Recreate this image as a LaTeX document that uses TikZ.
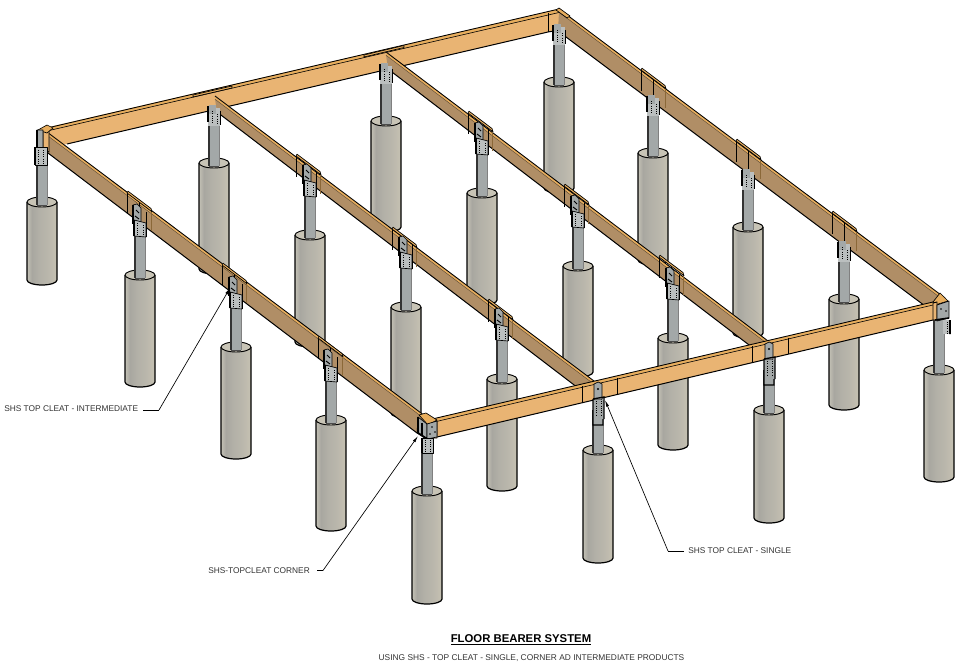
\documentclass[tikz,border=0pt]{standalone}
\usepackage{fontspec}
\setmainfont{Liberation Sans}
\usetikzlibrary{arrows.meta}
\definecolor{cA}{HTML}{C4C1B5}
\definecolor{cB}{HTML}{A8A7A0}
\definecolor{cC}{HTML}{B2B0A7}
\definecolor{cD}{HTML}{BAB7AC}
\definecolor{cE}{HTML}{C6C1B2}
\definecolor{captop}{HTML}{C8C4B6}
\definecolor{steel}{HTML}{A3A8A8}
\definecolor{steellt}{HTML}{BBBFBF}
\definecolor{faceO}{HTML}{E9B473}
\definecolor{faceB}{HTML}{B08E66}
\definecolor{stripO}{HTML}{E8AE5E}
\pgfdeclarehorizontalshading{cylshade}{100bp}{color(0bp)=(cA); color(25bp)=(cA); color(33bp)=(cB); color(45bp)=(cC); color(60bp)=(cD); color(75bp)=(cE); color(100bp)=(cE)}
\tikzset{
  ln/.style={draw=black,line width=0.7pt,line join=round},
  thinln/.style={draw=black,line width=0.5pt,line join=round},
  lead/.style={draw=black,line width=0.5pt},
  leadtip/.style={lead,-{Latex[length=5pt,width=2.2pt]}},
  lab/.style={font=\fontsize{6.25pt}{7.5pt}\selectfont,inner sep=0pt,text=black!80},
}
% x, cylinder top, cylinder bottom, post top
\newcommand{\pier}[4]{%
  \path[shading=cylshade] (#1-15,#2+5) -- (#1-15,#3-5) arc[start angle=180,end angle=0,x radius=15,y radius=5] -- (#1+15,#2+5) arc[start angle=0,end angle=-180,x radius=15,y radius=5] -- cycle;
  \draw[ln,line width=0.9pt] (#1-15,#2+5) -- (#1-15,#3-5) arc[start angle=180,end angle=0,x radius=15,y radius=5] -- (#1+15,#2+5);
  \draw[ln,fill=captop] (#1,#2+5) ellipse[x radius=15,y radius=5];
  \fill[steel] (#1-5,#4) rectangle (#1+5,#2+8);
  \draw[line width=0.9pt,black!80] (#1-5,#4) -- (#1-5,#2+8);
  \draw[line width=0.7pt,black!50] (#1+5,#4) -- (#1+5,#2+8);
  \draw[black!70,line width=0.5pt] (#1-5,#2+8) -- (#1+5,#2+8);
}
% side beam: strip top-left, strip top-right, face bottom-right, face bottom-left
\newcommand{\sidebeam}[8]{%
  \fill[faceB] (#1,#2+3) -- (#3,#4+3) -- (#5,#6) -- (#7,#8) -- cycle;
  \fill[stripO] (#1,#2) -- (#3,#4) -- (#3,#4+3.2) -- (#1,#2+3.2) -- cycle;
  \draw[black,line width=0.65pt] (#1,#2) -- (#3,#4);
  \draw[black!55!faceB,line width=0.3pt] (#1,#2+3.2) -- (#3,#4+3.2);
  \draw[black,line width=0.75pt] (#7,#8) -- (#5,#6);
}
% splice collar on a side beam: left x and face top y there
\newcommand{\splice}[2]{%
  \draw[thinln,fill=stripO] (#1,#2-3) -- (#1+1,#2-4.8) -- (#1+24,#2+12.5) -- (#1+25,#2+15.8) -- cycle;
  \draw[black,line width=0.6pt] (#1,#2-2) -- (#1,#2+18);
  \draw[black,line width=0.6pt] (#1+12,#2+7) -- (#1+12,#2+27);
  \draw[black!40!stripO,line width=0.6pt] (#1+24,#2+16) -- (#1+24,#2+35);
}
\newcommand{\plate}[2]{% intermediate cleat on a side beam
  \draw[thinln,fill=steel] (#1-7,#2-65) -- (#1-3,#2-66) -- (#1+1,#2-62) -- (#1+1,#2-48) -- (#1-7,#2-50) -- cycle;
  \draw[line width=1.1pt,black] (#1-7,#2-65) -- (#1-7,#2-46);
  \draw[black,line width=0.7pt] (#1-4,#2-60) -- (#1-1,#2-57);
  \draw[black,line width=0.7pt] (#1-5,#2-54) -- (#1-1,#2-51);
  \draw[thinln,fill=steellt] (#1-6,#2-50) -- (#1+6,#2-47) -- (#1+6,#2-33) -- (#1-6,#2-34) -- cycle;
  \draw[line width=1.1pt,black] (#1-6,#2-50) -- (#1-6,#2-34);
  \draw[black,line width=0.5pt] (#1+6,#2-58) -- (#1+6,#2-33);
  \draw[black,densely dotted,line width=0.7pt] (#1-3,#2-47) -- (#1-3,#2-35) (#1+3,#2-45) -- (#1+3,#2-35);
}
\newcommand{\backbracket}[2]{% bracket hanging below a beam
  \fill[steellt] (#1-6,#2-50) rectangle (#1+6,#2-32);
  \fill[steel] (#1-5,#2-53) rectangle (#1+2,#2-44);
  \draw[line width=1pt,black] (#1-6,#2-52) -- (#1-6,#2-36);
  \draw[line width=0.7pt,black] (#1+6,#2-47) -- (#1+6,#2-33);
  \draw[black,densely dotted,line width=0.7pt] (#1-2,#2-47) -- (#1-2,#2-34) (#1+3,#2-44) -- (#1+3,#2-34);
}
\newcommand{\frontcleat}[2]{% flat plate on the front beam
  \draw[thinln,fill=steel] (#1-4,#2-61) -- (#1,#2-63) -- (#1+4,#2-61) -- (#1+4,#2-45) -- (#1-4,#2-45) -- cycle;
  \fill[black] (#1,#2-56) circle[radius=1.2];
  \fill[steel] (#1-5,#2-45) rectangle (#1+6,#2-20);
  \draw[black,line width=1pt] (#1-5,#2-46) -- (#1+6,#2-48) -- (#1+6,#2-26) (#1-5,#2-46) -- (#1-5,#2-20) -- (#1+5,#2-20) -- (#1+5,#2-26);
  \draw[black,densely dotted,line width=0.7pt] (#1-2,#2-44) -- (#1-2,#2-30) (#1+3,#2-44) -- (#1+3,#2-30);
}
\begin{document}
\begin{tikzpicture}[x=0.75pt,y=-0.75pt]
\useasboundingbox (0,0) rectangle (969,670);
\fill[white] (0,0) rectangle (969,670);
% ---------- piers, back to front
\pier{559}{77}{193}{36}
\pier{386}{116}{232}{76}
\pier{214}{158}{274}{118}
\pier{653}{148}{265}{105}
\pier{482}{188}{305}{150}
\pier{310}{230}{347}{190}
\pier{748}{222}{338}{180}
\pier{578}{261}{377}{220}
\pier{406}{302}{418}{262}
\pier{844}{294}{410}{250}
\pier{673}{333}{450}{290}
\pier{502}{374}{491}{332}
\pier{42}{197}{285}{150}
\pier{140}{270}{387}{228}
\pier{236}{342}{459}{300}
\pier{331}{415}{531}{372}
\pier{939}{365}{482}{320}
\pier{769}{405}{523}{370}
\pier{598}{445}{563}{410}
\pier{427}{486}{604}{445}
% ---------- back beam
\fill[faceO] (45,130) -- (559,11) -- (559,31) -- (548,32) -- (67,144) -- (48,148) -- cycle;
\fill[stripO] (45,128) -- (559,9) -- (559,12.5) -- (45,131.5) -- cycle;
\draw[black,line width=0.65pt] (45,128.5) -- (559,9);
\draw[black,line width=0.45pt] (47,131) -- (559,12.5);
\draw[black,line width=0.75pt] (67,144) -- (548,32) -- (559,30);
\draw[black,line width=0.7pt] (548,13) -- (548,32);
\draw[thinln,fill=stripO] (193,95) -- (232,86) -- (232,88) -- (193,97) -- cycle;
\draw[thinln,fill=stripO] (364,55) -- (404,45.5) -- (404,47.5) -- (364,57) -- cycle;
% ---------- right beam
\sidebeam{559}{9}{945}{298}{933}{312}{558}{31}
\draw[thinln,fill=stripO] (559,8) -- (570,16) -- (567,18) -- (556,10) -- cycle;
\splice{641}{73}
\splice{736}{144}
\splice{832}{216}
% ---------- third beam
\sidebeam{386}{52}{768}{341}{753}{348}{388}{69}
\splice{468}{116}
\splice{564}{189}
\splice{659}{260}
% ---------- second beam
\sidebeam{215}{96}{598}{384}{582}{391}{217}{112}
\splice{296}{159}
\splice{392}{232}
\splice{488}{304}
% ---------- left beam
\sidebeam{47}{132}{425}{416}{417}{433}{48}{153}
\splice{127}{196}
\splice{222}{268}
\splice{318}{341}
% left corner end piece
\draw[ln,fill=faceO] (43,130) -- (49,131) -- (49,152) -- (43,150) -- cycle;
\draw[thinln,fill=stripO] (38,130) -- (47,125) -- (53,128) -- (47,133) -- cycle;
% ---------- front beam
\fill[stripO] (428,420) -- (933,302) -- (935,305) -- (430,423) -- cycle;
\fill[faceO] (437,421) -- (933,305) -- (933,320) -- (437,437) -- cycle;
\draw[black,line width=0.65pt] (428,420) -- (933,302);
\draw[black,line width=0.45pt] (430,423) -- (933,305);
\draw[black,line width=0.75pt] (437,437) -- (933,320);
\draw[ln,fill=faceO] (428,423) -- (437,421) -- (437,438) -- (428,438) -- cycle;
\draw[thinln,fill=stripO] (933,302) -- (940,293) -- (948,301) -- (935,305) -- cycle;
\draw[ln,fill=faceO] (933,303) -- (937,302) -- (937,320) -- (933,320) -- cycle;
\draw[black,line width=0.6pt] (582,386) -- (582,403) (617,378) -- (617,395) (752,346) -- (752,363) (788,338) -- (788,354);
\draw[thinln,fill=stripO] (419,415) -- (426,413) -- (437,420) -- (428,425) -- cycle;
% ---------- cleats
\backbracket{214}{158}
\backbracket{386}{116}
\backbracket{559}{77}
\backbracket{653}{148}
\backbracket{748}{222}
\backbracket{844}{294}
\plate{140}{270}
\plate{236}{342}
\plate{331}{415}
\plate{310}{230}
\plate{406}{302}
\plate{502}{374}
\plate{482}{188}
\plate{578}{261}
\plate{673}{333}
\frontcleat{598}{445}
\frontcleat{769}{405}
% corner front
\draw[thinln,fill=steel] (418,417) -- (427,424) -- (427,438) -- (417,433) -- cycle;
\draw[black,line width=1.4pt] (418,417) -- (418,433) -- (427,439);
\draw[black,line width=1pt] (422,423) -- (422,436);
\draw[thinln,fill=steel] (427,424) -- (437,421) -- (437,437) -- (427,439) -- cycle;
\foreach \a/\b in {432/427,435/432,430/434}{\fill[black] (\a,\b) circle[radius=0.9];}
\draw[thinln,fill=steellt] (422,438) rectangle (433,453);
\draw[black,line width=1.2pt] (422,438) -- (422,453);
\draw[black,densely dotted,line width=0.6pt] (430,440) -- (430,452) (425,440) -- (425,452);
% corner far left
\draw[thinln,fill=steel] (37,130) -- (43,130) -- (43,152) -- (37,150) -- cycle;
\draw[black,line width=1.2pt] (37,130) -- (37,150);
\draw[thinln,fill=steellt] (35,147) rectangle (47,165);
\draw[black,line width=1.2pt] (35,147) -- (35,165);
\draw[black,densely dotted,line width=0.6pt] (43,150) -- (43,163) (38,150) -- (38,163);
% corner right
\draw[thinln,fill=steel] (937,305) -- (949,301) -- (949,318) -- (937,321) -- cycle;
\foreach \a/\b in {941/309,946/311}{\fill[black] (\a,\b) circle[radius=0.9];}
\fill[steellt] (943,320) rectangle (950,334);
\draw[black,line width=1.2pt] (950,320) -- (950,334) (935,320) -- (949,318);
\draw[black,densely dotted,line width=0.6pt] (947,322) -- (947,333);
% ---------- labels and leaders
\node[lab,anchor=west] (lblInter) at (4,409) {SHS TOP CLEAT - INTERMEDIATE};
\node[lab,anchor=west] (lblCorner) at (208,570.5) {SHS-TOPCLEAT CORNER};
\node[lab,anchor=west] (lblSingle) at (688,550.5) {SHS TOP CLEAT - SINGLE};
\coordinate (bendI) at (159,410);
\coordinate (tipI) at (230,288);
\coordinate (bendC) at (323,570.5);
\coordinate (tipC) at (418,436);
\coordinate (bendS) at (668,551);
\coordinate (tipS) at (605,400);
\draw[lead] (lblInter.east) ++(5,1) -- (bendI);
\draw[leadtip] (bendI) -- (tipI);
\draw[lead] (lblCorner.east) ++(7,0) -- (bendC);
\draw[leadtip] (bendC) -- (tipC);
\draw[lead] (lblSingle.west) ++(-4,0.5) -- (bendS);
\draw[leadtip] (bendS) -- (tipS);
\node[inner sep=0pt,font=\fontsize{8.5pt}{10pt}\selectfont\bfseries] (title) at (521,640) {\underline{FLOOR BEARER SYSTEM}};
\node[inner sep=0pt,font=\fontsize{6.28pt}{8pt}\selectfont,text=black!80] (subtitle) at (531.5,658) {USING SHS - TOP CLEAT - SINGLE, CORNER AD INTERMEDIATE PRODUCTS};
\end{tikzpicture}
\end{document}
